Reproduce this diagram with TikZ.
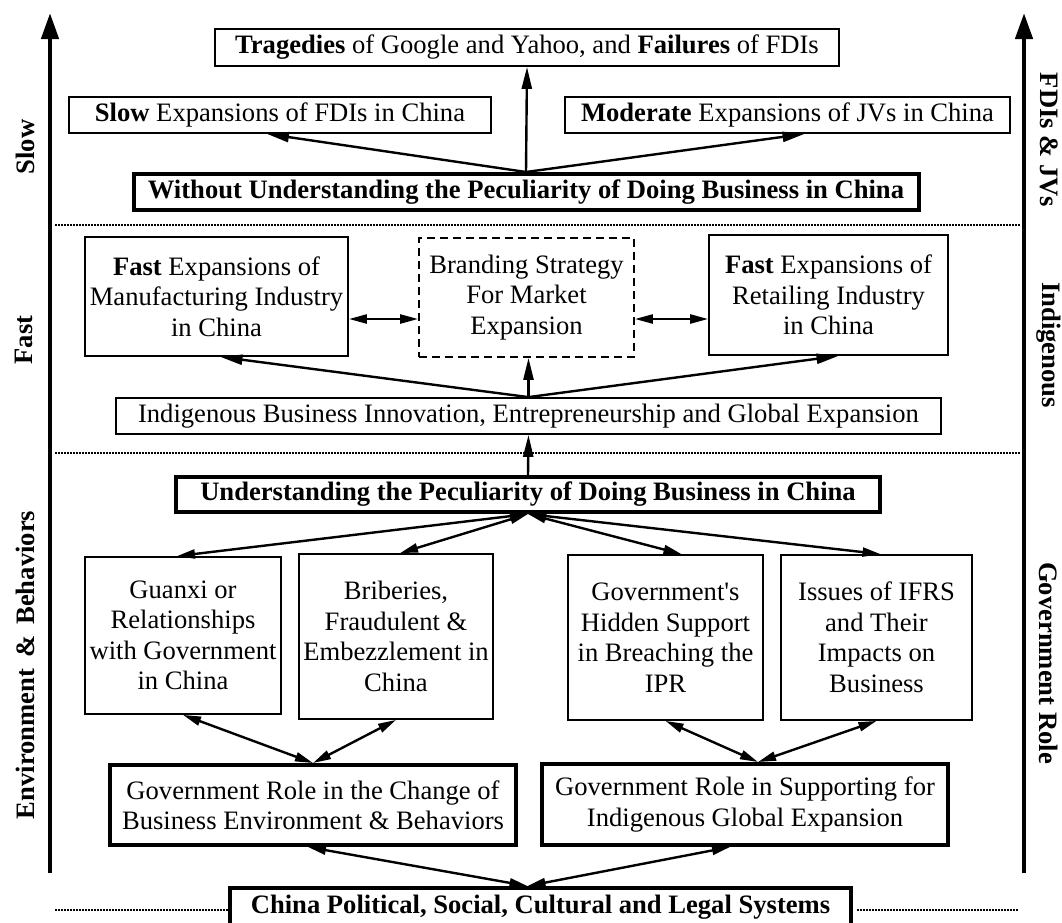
\documentclass[tikz,border=0pt]{standalone}
\usepackage{fontspec}
\setmainfont{Liberation Serif}
\usetikzlibrary{arrows.meta,calc}
\newcommand{\straightq}{\XeTeXglyph\XeTeXcharglyph"0027\relax}
\begin{document}
\begin{tikzpicture}[x=1pt,y=-1pt,
  box/.style={draw,line width=1.8pt,inner sep=0pt,align=center,font=\fontsize{26.6}{30.5}\selectfont},
  thickbox/.style={box,line width=4pt},
  dbox/.style={box,dash pattern=on 8pt off 5pt},
  conn/.style={line width=2.4pt,-{Triangle[length=22pt,width=10pt]}},
  dconn/.style={line width=2.4pt,{Triangle[length=18pt,width=9pt]}-{Triangle[length=18pt,width=9pt]}},
  axisarrow/.style={line width=4.5pt,-{Triangle[length=26pt,width=17pt]}},
  sepline/.style={line width=1.5pt,dash pattern=on 1.5pt off 1.5pt},
  side/.style={font=\fontsize{26.6}{30}\selectfont\bfseries,inner sep=0pt}
]
\useasboundingbox (0,0) rectangle (1062,922);

% side axes
\coordinate (lbot) at (50,873);
\coordinate (ltop) at (50,13);
\coordinate (rbot) at (1024,873);
\coordinate (rtop) at (1024,13);
\draw[axisarrow] (lbot) -- (ltop);
\draw[axisarrow] (rbot) -- (rtop);

\node[side,rotate=90] (lslow) at (25,147) {Slow};
\node[side,rotate=90] (lfast) at (24,340) {Fast};
\node[side,rotate=90] (lenv) at (25,665) {Environment \,\&\, Behaviors};
\node[side,rotate=-90] (rfdi) at (1049,140) {FDIs \& JVs};
\node[side,rotate=-90] (rind) at (1049,345) {Indigenous};
\node[side,rotate=-90] (rgov) at (1049,663) {Government Role};

% separators
\coordinate (s1a) at (55,225);
\coordinate (s1b) at (1021,225);
\coordinate (s2a) at (55,453);
\coordinate (s2b) at (1021,453);
\draw[sepline] (s1a) -- (s1b);
\draw[sepline] (s2a) -- (s2b);

% top section
\node[box,minimum width=624,minimum height=37] (trag) at (527,47.5) {\textbf{Tragedies} of Google and Yahoo, and \textbf{Failures} of FDIs};
\node[box,minimum width=422,minimum height=36] (slow) at (280,115) {\textbf{Slow} Expansions of FDIs in China};
\node[box,minimum width=445,minimum height=36] (moder) at (787.5,115) {\textbf{Moderate} Expansions of JVs in China};
\node[thickbox,minimum width=785,minimum height=36,font=\fontsize{26.6}{30.5}\selectfont\bfseries] (without) at (526,192) {Without Understanding the Peculiarity of Doing Business in China};

% middle section
\node[box,minimum width=263,minimum height=119] (manuf) at (216.5,296.5) {\textbf{Fast} Expansions of\\Manufacturing Industry\\in China};
\node[dbox,minimum width=215,minimum height=119] (brand) at (526.5,297.5) {Branding Strategy\\For Market\\Expansion};
\node[box,minimum width=239,minimum height=120] (retail) at (828.5,295) {\textbf{Fast} Expansions of\\Retailing Industry\\in China};
\node[box,minimum width=825,minimum height=36] (indig) at (528.5,416) {Indigenous Business Innovation, Entrepreneurship and Global Expansion};

% bottom section
\node[thickbox,minimum width=704,minimum height=35,font=\fontsize{26.6}{30.5}\selectfont\bfseries] (und) at (528,494.5) {Understanding the Peculiarity of Doing Business in China};
\node[box,minimum width=196,minimum height=157] (guanxi) at (183,635.5) {Guanxi or\\Relationships\\with Government\\in China};
\node[box,minimum width=194,minimum height=165] (brib) at (396,636.5) {Briberies,\\Fraudulent \&\\Embezzlement in\\China};
\node[box,minimum width=195,minimum height=165] (hidden) at (665.5,637.5) {Government\straightq s\\Hidden Support\\in Breaching the\\IPR};
\node[box,minimum width=191,minimum height=165] (ifrs) at (876.5,637.5) {Issues of IFRS\\and Their\\Impacts on\\Business};
\node[thickbox,minimum width=406,minimum height=80] (govchg) at (313,805) {Government Role in the Change of\\Business Environment \& Behaviors};
\node[thickbox,minimum width=406,minimum height=81] (govsup) at (745,804.5) {Government Role in Supporting for\\Indigenous Global Expansion};
\node[thickbox,minimum width=621,minimum height=38,font=\fontsize{26.6}{30.5}\selectfont\bfseries] (china) at (540.5,907) {China Political, Social, Cultural and Legal Systems};

\coordinate (s3a) at (55,910);
\coordinate (s3b) at (1019,910);
\draw[sepline] (s3a) -- (china.west |- s3a);
\draw[sepline] ($(china.east |- s3b)+(4,0)$) -- (s3b);

% connectors: top
\draw[conn] (without.north) -- (trag.south);
\draw[conn] (without.north) -- ($(slow.south)+(-13,0)$);
\draw[conn] (without.north) -- ($(moder.south)+(17,0)$);

% connectors: middle
\draw[conn] (indig.north) -- ($(manuf.south)+(4,0)$);
\draw[conn] (indig.north) -- (brand.south -| indig.north);
\draw[conn] (indig.north) -- ($(retail.south)+(10,0)$);
\draw[conn] (und.north) -- (indig.south);
\coordinate (dy) at (0,319);
\draw[dconn] (manuf.east |- dy) -- (brand.west |- dy);
\draw[dconn] (brand.east |- dy) -- (retail.west |- dy);

% connectors: bottom
\draw[dconn] (und.south) -- ($(guanxi.north)+(-6,0)$);
\draw[dconn] (und.south) -- ($(brib.north)+(4,0)$);
\draw[dconn] (und.south) -- ($(hidden.north)+(16,0)$);
\draw[dconn] (und.south) -- ($(ifrs.north)+(4,0)$);
\draw[dconn] (guanxi.south) -- (govchg.north);
\draw[dconn] (brib.south) -- (govchg.north);
\draw[dconn] (hidden.south) -- ($(govsup.north)+(13,0)$);
\draw[dconn] (ifrs.south) -- ($(govsup.north)+(13,0)$);
\draw[dconn] ($(govchg.south)+(-5,0)$) -- ($(china.north)+(-13,0)$);
\draw[dconn] ($(govsup.south)+(-15,0)$) -- ($(china.north)+(-13,0)$);
\end{tikzpicture}
\end{document}
